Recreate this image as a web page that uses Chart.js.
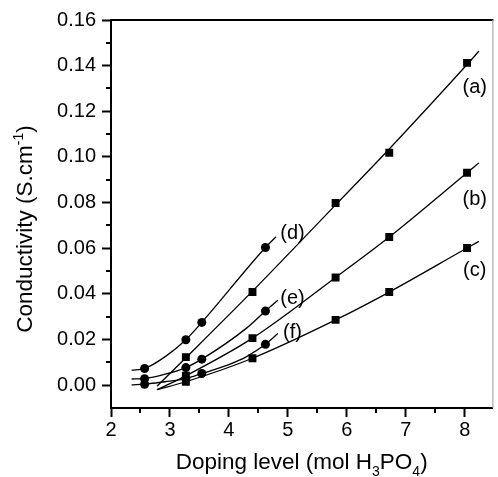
<!DOCTYPE html>
<html>
<head>
<meta charset="utf-8">
<script src="https://cdn.jsdelivr.net/npm/chart.js@4.4.1/dist/chart.umd.min.js"></script>
<style>
  html, body { margin: 0; padding: 0; background: #fff; }
  canvas { display: block; }
</style>
</head>
<body>
<canvas id="chart" width="498" height="477"></canvas>
<script>
// Measured points: squares (a, b, c), circles (d, e, f)
const xSquares = [3.27, 4.40, 5.81, 6.72, 8.04];
const aVals = [0.0123, 0.0408, 0.0798, 0.1018, 0.1412];
const bVals = [0.0041, 0.0206, 0.0472, 0.0649, 0.0931];
const cVals = [0.0015, 0.0118, 0.0286, 0.0408, 0.0601];

const xCircles = [2.57, 3.27, 3.54, 4.62];
const dVals = [0.0073, 0.0199, 0.0275, 0.0603];
const eVals = [0.0028, 0.0077, 0.0114, 0.0325];
const fVals = [0.0004, 0.0029, 0.0051, 0.0179];

// Fitted curves
const fitSqX = [2.78, 3.27, 4.40, 5.81, 6.72, 8.04, 8.24];
const fitA = [-0.0005, 0.0120, 0.0412, 0.0790, 0.1035, 0.1405, 0.1463];
const fitB = [-0.0020, 0.0041, 0.0206, 0.0472, 0.0649, 0.0931, 0.0974];
const fitC = [-0.0020, 0.0015, 0.0118, 0.0286, 0.0408, 0.0601, 0.0630];

const fitDX = [2.35, 2.57, 2.92, 3.27, 3.54, 4.62, 4.80];
const fitD = [0.0066, 0.0073, 0.0125, 0.0199, 0.0275, 0.0603, 0.0650];
const fitEX = [2.35, 2.57, 2.92, 3.27, 3.54, 4.30, 4.62, 4.83];
const fitE = [0.0027, 0.0029, 0.0048, 0.0077, 0.0114, 0.0250, 0.0325, 0.0372];
const fitFX = [2.35, 2.57, 2.92, 3.27, 3.54, 4.00, 4.30, 4.62, 4.83];
const fitF = [0.0001, 0.0005, 0.0015, 0.0029, 0.0051, 0.0090, 0.0125, 0.0179, 0.0226];

// Axis ticks
const xTicks = [2, 3, 4, 5, 6, 7, 8];
const xMinor = [2.5, 3.5, 4.5, 5.5, 6.5, 7.5];
const yTicks = [0, 0.02, 0.04, 0.06, 0.08, 0.10, 0.12, 0.14, 0.16];
const yMinor = [0.01, 0.03, 0.05, 0.07, 0.09, 0.11, 0.13, 0.15];

// Curve labels (data coordinates)
const curveLabels = ['(a)', '(b)', '(c)', '(d)', '(e)', '(f)'];
const labelX = [8.17, 8.17, 8.17, 5.08, 5.08, 5.08];
const labelY = [0.1304, 0.0813, 0.0501, 0.0664, 0.0379, 0.0229];

const FONT = '"Liberation Sans", Arial, sans-serif';
const pts = (xs, ys) => xs.map((x, i) => ({ x: x, y: ys[i] }));

function fitLine(xs, ys) {
    return {
        data: pts(xs, ys),
        showLine: true,
        borderColor: '#000',
        borderWidth: 1.3,
        pointRadius: 0,
        cubicInterpolationMode: 'monotone',
        order: 2
    };
}

function marks(xs, ys, style) {
    return {
        data: pts(xs, ys),
        showLine: false,
        pointStyle: style,
        pointRadius: style === 'rect' ? 5.6 : 4.5,
        backgroundColor: '#000',
        borderColor: '#000',
        borderWidth: 0,
        order: 1
    };
}

// draw text made of pieces, some raised or lowered
function drawRich(ctx, parts, size, cx, baseY) {
    const small = Math.round(size * 0.62);
    let total = 0;
    parts.forEach(p => {
        ctx.font = (p.sub || p.sup ? small : size) + 'px ' + FONT;
        p.w = ctx.measureText(p.t).width;
        total += p.w;
    });
    let x = cx - total / 2;
    ctx.textAlign = 'left';
    ctx.textBaseline = 'alphabetic';
    parts.forEach(p => {
        ctx.font = (p.sub || p.sup ? small : size) + 'px ' + FONT;
        const dy = p.sub ? size * 0.3 : (p.sup ? -size * 0.42 : 0);
        ctx.fillText(p.t, x, baseY + dy);
        x += p.w;
    });
}

const decorations = {
    id: 'decorations',
    afterDraw(chart) {
        const { ctx, chartArea: a, scales: { x, y } } = chart;
        ctx.save();
        ctx.strokeStyle = '#000';

        // top frame line
        ctx.lineWidth = 2;
        ctx.beginPath();
        ctx.moveTo(a.left - 1, a.top);
        ctx.lineTo(a.right + 1, a.top);
        ctx.stroke();

        // thin right edge
        ctx.strokeStyle = '#999';
        ctx.lineWidth = 1;
        ctx.beginPath();
        ctx.moveTo(a.right + 0.5, a.top);
        ctx.lineTo(a.right + 0.5, a.bottom);
        ctx.stroke();

        // minor ticks
        ctx.strokeStyle = '#000';
        ctx.lineWidth = 2;
        ctx.beginPath();
        xMinor.forEach(v => {
            const px = Math.round(x.getPixelForValue(v));
            ctx.moveTo(px, a.bottom);
            ctx.lineTo(px, a.bottom + 5);
        });
        yMinor.forEach(v => {
            const py = Math.round(y.getPixelForValue(v));
            ctx.moveTo(a.left, py);
            ctx.lineTo(a.left - 5, py);
        });
        ctx.stroke();

        // curve labels
        ctx.fillStyle = '#000';
        ctx.font = '20px ' + FONT;
        ctx.textAlign = 'center';
        ctx.textBaseline = 'middle';
        curveLabels.forEach((t, i) => {
            ctx.fillText(t, x.getPixelForValue(labelX[i]), y.getPixelForValue(labelY[i]));
        });

        // axis titles
        drawRich(ctx, [
            { t: 'Doping level (mol H' }, { t: '3', sub: true },
            { t: 'PO' }, { t: '4', sub: true }, { t: ')' }
        ], 22.5, (a.left + a.right) / 2, 469);

        ctx.translate(32, 229);
        ctx.rotate(-Math.PI / 2);
        drawRich(ctx, [
            { t: 'Conductivity (S.cm' }, { t: '-1', sup: true }, { t: ')' }
        ], 22.5, 0, 0);

        ctx.restore();
    }
};

new Chart(document.getElementById('chart'), {
    type: 'scatter',
    data: {
        datasets: [
            fitLine(fitSqX, fitA),
            fitLine(fitSqX, fitB),
            fitLine(fitSqX, fitC),
            fitLine(fitDX, fitD),
            fitLine(fitEX, fitE),
            fitLine(fitFX, fitF),
            marks(xSquares, aVals, 'rect'),
            marks(xSquares, bVals, 'rect'),
            marks(xSquares, cVals, 'rect'),
            marks(xCircles, dVals, 'circle'),
            marks(xCircles, eVals, 'circle'),
            marks(xCircles, fVals, 'circle')
        ]
    },
    options: {
        responsive: false,
        animation: false,
        devicePixelRatio: 1,
        layout: { padding: { top: 20, right: 1, left: 0, bottom: 0 } },
        plugins: {
            legend: { display: false },
            tooltip: { enabled: false }
        },
        scales: {
            x: {
                type: 'linear',
                min: 2,
                max: 8.47,
                afterBuildTicks: s => { s.ticks = xTicks.map(v => ({ value: v })); },
                afterFit: s => { s.height = 69; },
                ticks: {
                    color: '#000',
                    font: { family: FONT, size: 20 },
                    padding: 1,
                    maxRotation: 0,
                    callback: v => String(v)
                },
                grid: {
                    drawOnChartArea: false,
                    drawTicks: true,
                    tickLength: 9,
                    tickWidth: 2,
                    tickColor: '#000'
                },
                border: { display: true, color: '#000', width: 2 }
            },
            y: {
                type: 'linear',
                min: -0.01,
                max: 0.16,
                afterBuildTicks: s => { s.ticks = yTicks.map(v => ({ value: v })); },
                afterFit: s => { s.width = 111; },
                ticks: {
                    color: '#000',
                    font: { family: FONT, size: 20 },
                    padding: 6,
                    callback: v => v.toFixed(2)
                },
                grid: {
                    drawOnChartArea: false,
                    drawTicks: true,
                    tickLength: 9,
                    tickWidth: 2,
                    tickColor: '#000'
                },
                border: { display: true, color: '#000', width: 2 }
            }
        }
    },
    plugins: [decorations]
});
</script>
</body>
</html>
